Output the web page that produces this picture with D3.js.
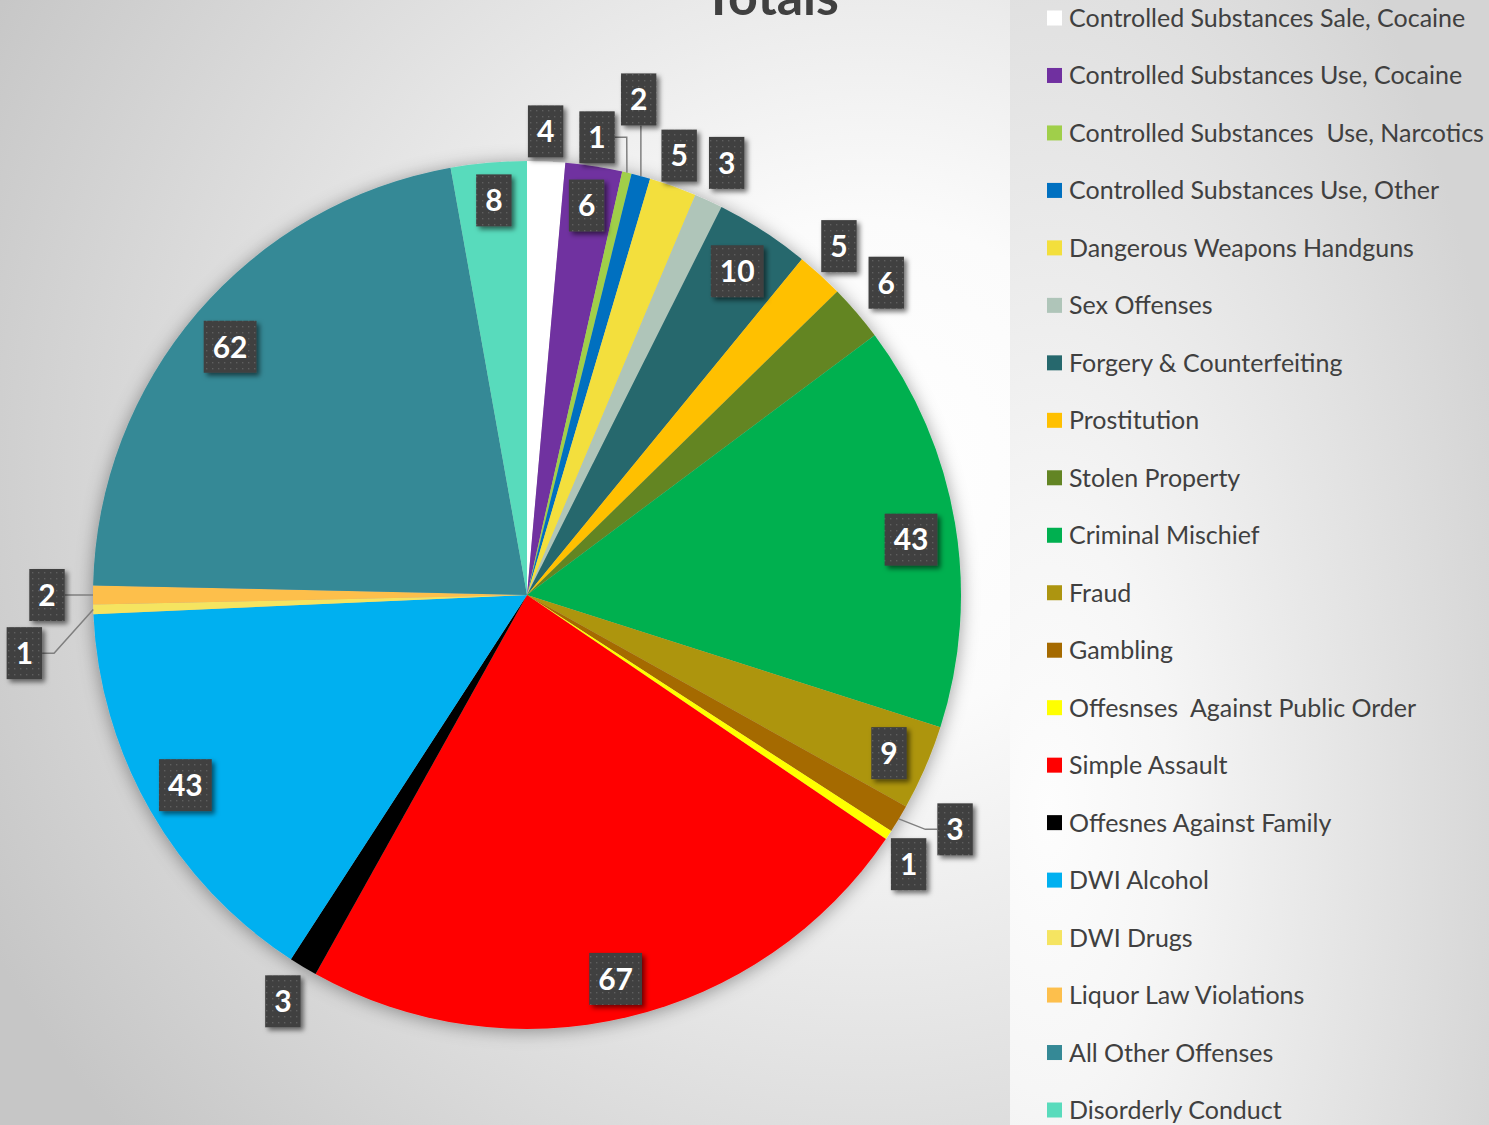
<!DOCTYPE html>
<html><head><meta charset="utf-8">
<script src="https://cdn.jsdelivr.net/npm/d3@7"></script>
<style>html,body{margin:0;padding:0;background:#fff;overflow:hidden}</style>
</head><body><svg id="chart" width="1489" height="1125"></svg>
<script>
// ---- data ----
const chartTitle = "Totals";
const categories = [
  "Controlled Substances Sale, Cocaine",
  "Controlled Substances Use, Cocaine",
  "Controlled Substances  Use, Narcotics",
  "Controlled Substances Use, Other",
  "Dangerous Weapons Handguns",
  "Sex Offenses",
  "Forgery & Counterfeiting",
  "Prostitution",
  "Stolen Property",
  "Criminal Mischief",
  "Fraud",
  "Gambling",
  "Offesnses  Against Public Order",
  "Simple Assault",
  "Offesnes Against Family",
  "DWI Alcohol",
  "DWI Drugs",
  "Liquor Law Violations",
  "All Other Offenses",
  "Disorderly Conduct"
];
const values = [4, 6, 1, 2, 5, 3, 10, 5, 6, 43, 9, 3, 1, 67, 3, 43, 1, 2, 62, 8];

// ---- styles ----
const colors = [
  "#FFFFFF", "#7030A0", "#A0CF4A", "#0070C0", "#F3DF3C",
  "#AFC5B9", "#26686D", "#FFC000", "#638524", "#00B050",
  "#AD9510", "#A56A00", "#FFFF00", "#FF0000", "#000000",
  "#00B0F0", "#F5E461", "#FDBF4C", "#358996", "#59DBBC"
];
// label placement: angle (deg, clockwise from 12 o'clock), distance from centre, leader line flag
const labelAngles = [2.3, 8.7, 8.7, 12.7, 19.1, 24.8, 33.0, 41.8, 49.0, 81.8,
                     113.6, 118.7, 125.2, 167.0, 211.0, 240.9, 263.4, 270.0, 309.9, 355.2];
const labelRadii  = [464, 394, 463, 508, 465, 476, 386, 468, 476, 388,
                     395, 488, 467, 394, 474, 391, 506, 480, 387, 396];
const labelLeader = [0,0,1,1,0,0,0,0,0,0, 0,1,0,0,0,0,1,1,0,0];

const W = 1489, H = 1125;
const CX = 527, CY = 595, R = 434;
const textColor = "#404040";

const svg = d3.select("#chart");
const defs = svg.append("defs");

// background gradients
const bg = defs.append("radialGradient").attr("id", "bg")
  .attr("gradientUnits", "userSpaceOnUse").attr("cx", 870).attr("cy", 470).attr("r", 1000);
bg.append("stop").attr("offset", 0).attr("stop-color", "#ffffff");
bg.append("stop").attr("offset", 0.25).attr("stop-color", "#fbfbfb");
bg.append("stop").attr("offset", 1).attr("stop-color", "#c6c6c6");

const lg = defs.append("radialGradient").attr("id", "lg")
  .attr("cx", 0.08).attr("cy", 0.72).attr("r", 1.0);
lg.append("stop").attr("offset", 0).attr("stop-color", "#fdfdfd");
lg.append("stop").attr("offset", 0.25).attr("stop-color", "#f6f6f6");
lg.append("stop").attr("offset", 1).attr("stop-color", "#d4d4d4");

// pie glow
const glow = defs.append("filter").attr("id", "glow")
  .attr("x", -0.2).attr("y", -0.2).attr("width", 1.4).attr("height", 1.4);
glow.append("feDropShadow").attr("dx", 0).attr("dy", 2).attr("stdDeviation", 9)
  .attr("flood-color", "#000").attr("flood-opacity", 0.38);

// label box shadow
const bs = defs.append("filter").attr("id", "boxshadow")
  .attr("x", -0.5).attr("y", -0.5).attr("width", 2).attr("height", 2);
bs.append("feDropShadow").attr("dx", 3).attr("dy", 3).attr("stdDeviation", 2.5)
  .attr("flood-color", "#000").attr("flood-opacity", 0.55);

// dotted pattern for label boxes
const pat = defs.append("pattern").attr("id", "dots")
  .attr("patternUnits", "userSpaceOnUse").attr("width", 6).attr("height", 6);
pat.append("rect").attr("width", 6).attr("height", 6).attr("fill", "#3f3f3f");
pat.append("rect").attr("x", 2).attr("y", 2).attr("width", 1.4).attr("height", 1.4).attr("fill", "#5e5e5e");

svg.append("rect").attr("width", W).attr("height", H).attr("fill", "url(#bg)");
svg.append("rect").attr("x", 1010).attr("y", 0).attr("width", W - 1010).attr("height", H).attr("fill", "url(#lg)");

// title
svg.append("text").attr("x", 771).attr("y", 15).attr("text-anchor", "middle")
  .attr("font-family", "Lato, 'Open Sans', sans-serif").attr("font-weight", 700)
  .attr("font-size", 52).attr("fill", textColor).text(chartTitle);

// pie
const arcs = d3.pie().sort(null).value(d => d)(values);
const arc = d3.arc().innerRadius(0).outerRadius(R);
const pg = svg.append("g").attr("transform", `translate(${CX},${CY})`);
pg.append("g").attr("filter", "url(#glow)")
  .selectAll("path").data(arcs).join("path")
  .attr("d", arc).attr("fill", (d, i) => colors[i]);

// labels
const rad = d => d * Math.PI / 180;
const lblG = svg.append("g");
const leaderG = lblG.append("g");
const boxG = lblG.append("g");
const fs = 30;
arcs.forEach((d, i) => {
  const a = rad(labelAngles[i]);
  const x = CX + labelRadii[i] * Math.sin(a);
  const y = CY - labelRadii[i] * Math.cos(a);
  const g = boxG.append("g");
  const t = g.append("text").attr("x", x).attr("y", y + fs * 0.36)
    .attr("text-anchor", "middle").attr("font-family", "Lato, 'Open Sans', sans-serif")
    .attr("font-weight", 700).attr("font-size", fs).attr("fill", "#ffffff")
    .text(values[i]);
  const tw = t.node().getComputedTextLength();
  const bw = tw + 18, bh = 52;
  const x0 = x - bw / 2, x1 = x + bw / 2, y0 = y - bh / 2, y1 = y + bh / 2;
  g.insert("rect", "text").attr("x", x0).attr("y", y0).attr("width", bw).attr("height", bh)
    .attr("fill", "url(#dots)").attr("filter", "url(#boxshadow)");
  if (labelLeader[i]) {
    const m = (d.startAngle + d.endAngle) / 2;
    const px = CX + R * Math.sin(m), py = CY - R * Math.cos(m);
    let pts;
    if (px >= x0 && px <= x1) pts = [[px, py], [px, py < y0 ? y0 : y1]];
    else if (px > x1) pts = [[px, py], [x1 + 12, y], [x1, y]];
    else pts = [[px, py], [x0 - 12, y], [x0, y]];
    leaderG.append("path").attr("d", d3.line()(pts))
      .attr("fill", "none").attr("stroke", "#7f7f7f").attr("stroke-width", 1.5);
  }
});

// legend
const legG = svg.append("g");
const rowStep = (1110 - 18) / (categories.length - 1);
categories.forEach((c, i) => {
  const yy = 18 + i * rowStep;
  legG.append("rect").attr("x", 1047).attr("y", yy - 7.5).attr("width", 15).attr("height", 15)
    .attr("fill", colors[i]);
  legG.append("text").attr("x", 1069).attr("y", yy + 9).attr("xml:space", "preserve")
    .style("white-space", "pre")
    .attr("font-family", "Lato, 'Open Sans', sans-serif").attr("font-size", 25)
    .attr("fill", textColor).text(c);
});
</script>
</body></html>
